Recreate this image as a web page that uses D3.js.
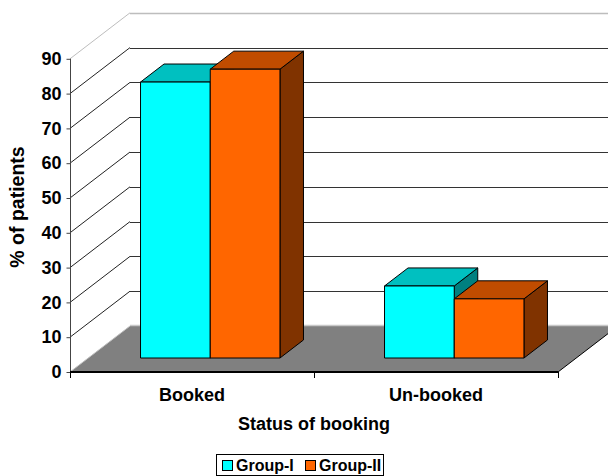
<!DOCTYPE html>
<html><head><meta charset="utf-8">
<script src="https://cdn.jsdelivr.net/npm/d3@7"></script>
<style>
html,body{margin:0;padding:0;background:#fff;}
svg{display:block;font-family:"Liberation Sans",Arial,sans-serif;font-weight:bold;}
</style></head>
<body>
<svg id="chart" width="608" height="476"></svg>
<script>
const categories = ["Booked", "Un-booked"];
const groups = ["Group-I", "Group-II"];
const groupI = [79.3, 20.7];
const groupII = [83.0, 17.0];
const yTicks = [0, 10, 20, 30, 40, 50, 60, 70, 80, 90];
const yTitle = "% of patients";
const xTitle = "Status of booking";

const faceColors = {
  "Group-I": {front: "#00FFFF", top: "#00C0C0", side: "#008080"},
  "Group-II": {front: "#FF6600", top: "#C04C00", side: "#803300"}
};

const svg = d3.select("#chart");
const W = 608, H = 476;
const DX = 60, DY = -46;           // full depth vector
const f0 = 0.304, f1 = 0.696;      // bar depth range

const x = d3.scaleBand().domain(categories).range([70, 558]).paddingInner(0).paddingOuter(0);
const xg = d3.scaleBand().domain(groups).range([0, x.bandwidth()]).paddingInner(0).paddingOuter(0.75);
const y = d3.scaleLinear().domain([0, 90]).range([372, 58.8]);

const data = categories.map((c, i) => ({cat: c, vals: [{g: "Group-I", v: groupI[i]}, {g: "Group-II", v: groupII[i]}]}));

const P = (px, py, f) => [px + f * DX, py + f * DY];
const poly = pts => pts.map(p => p.join(",")).join(" ");

const g = svg.append("g");

// floor
const floor = [P(70, y(0), 0), P(558, y(0), 0), P(558, y(0), 1), P(70, y(0), 1)];
g.append("polygon").attr("points", poly(floor)).attr("fill", "#808080");
g.append("line").attr("x1", floor[3][0]).attr("y1", floor[3][1] - 0.5).attr("x2", W + 20).attr("y2", floor[3][1] - 0.5)
  .attr("stroke", "#c8c8c8").attr("stroke-width", 1.5);
g.append("line").attr("x1", floor[0][0]).attr("y1", floor[0][1]).attr("x2", floor[3][0]).attr("y2", floor[3][1])
  .attr("stroke", "#c0c0c0").attr("stroke-width", 1);
g.append("line").attr("x1", floor[1][0]).attr("y1", floor[1][1]).attr("x2", floor[2][0]).attr("y2", floor[2][1])
  .attr("stroke", "#000").attr("stroke-width", 1);

// gridlines (back wall + left wall diagonals)
yTicks.filter(t => t > 0).forEach(t => {
  const top = t === 90;
  const col = top ? "#bdbdbd" : "#222";
  const a = P(70, y(t), 0), b = P(70, y(t), 1);
  g.append("line").attr("x1", a[0]).attr("y1", a[1]).attr("x2", b[0]).attr("y2", b[1])
    .attr("stroke", col).attr("stroke-width", 1);
  g.append("line").attr("x1", b[0]).attr("y1", Math.round(b[1]) + 0.5).attr("x2", W + 20).attr("y2", Math.round(b[1]) + 0.5)
    .attr("stroke", top ? "#bdbdbd" : "#333").attr("stroke-width", top ? 1.5 : 1);
});

// bars (left to right)
data.forEach(d => {
  d.vals.forEach(v => {
    const x0 = x(d.cat) + xg(v.g), x1 = x0 + xg.bandwidth();
    const yb = y(0), yt = y(v.v);
    const c = faceColors[v.g];
    const front = [P(x0, yt, f0), P(x1, yt, f0), P(x1, yb, f0), P(x0, yb, f0)];
    const top = [P(x0, yt, f0), P(x1, yt, f0), P(x1, yt, f1), P(x0, yt, f1)];
    const side = [P(x1, yt, f0), P(x1, yt, f1), P(x1, yb, f1), P(x1, yb, f0)];
    g.append("polygon").attr("points", poly(side)).attr("fill", c.side).attr("stroke", "#000").attr("stroke-width", 1).attr("stroke-linejoin", "round");
    g.append("polygon").attr("points", poly(top)).attr("fill", c.top).attr("stroke", "#000").attr("stroke-width", 1).attr("stroke-linejoin", "round");
    g.append("polygon").attr("points", poly(front)).attr("fill", c.front).attr("stroke", "#000").attr("stroke-width", 1);
  });
});

// y axis
const yAxis = d3.axisLeft(y).tickValues(yTicks).tickSize(4).tickPadding(5).tickFormat(d3.format("d"));
const ya = svg.append("g").attr("transform", "translate(70.5,0)").call(yAxis);
ya.select(".domain").attr("stroke", "#444").attr("d", `M0,${y(90)}V${y(0)}`);
ya.selectAll(".tick line").attr("stroke", "#444");
ya.selectAll(".tick text").attr("font-size", 18).attr("font-weight", "bold")
  .attr("font-family", '"Liberation Sans",Arial,sans-serif').attr("fill", "#000");

// x axis
const xa = svg.append("g").attr("transform", `translate(0,${y(0)})`);
xa.append("line").attr("x1", 70).attr("x2", 558).attr("y1", 0).attr("y2", 0).attr("stroke", "#000").attr("stroke-width", 2);
const edges = [x(categories[0])].concat(categories.map(c => x(c) + x.bandwidth()));
edges.forEach(e => xa.append("line").attr("x1", Math.round(e) + 0.5).attr("x2", Math.round(e) + 0.5).attr("y1", 0).attr("y2", 6).attr("stroke", "#000"));
xa.selectAll("text.cat").data(categories).join("text").attr("class", "cat")
  .attr("x", c => x(c) + x.bandwidth() / 2).attr("y", 29)
  .attr("text-anchor", "middle").attr("font-size", 18).text(c => c);

// titles
svg.append("text").attr("x", 314).attr("y", 430).attr("text-anchor", "middle").attr("font-size", 18).text(xTitle);
svg.append("text").attr("transform", "translate(24,207) rotate(-90)").attr("text-anchor", "middle").attr("font-size", 19.5).text(yTitle);

// legend
const lg = svg.append("g");
lg.append("rect").attr("x", 216.5).attr("y", 454.5).attr("width", 167).attr("height", 21).attr("fill", "#fff").attr("stroke", "#000");
const legX = [222, 305];
groups.forEach((gname, i) => {
  lg.append("rect").attr("x", legX[i] + 0.5).attr("y", 460.5).attr("width", 10).attr("height", 10)
    .attr("fill", faceColors[gname].front).attr("stroke", "#000");
  lg.append("text").attr("x", legX[i] + 14).attr("y", 471).attr("font-size", 16).text(gname);
});
</script>
</body></html>
